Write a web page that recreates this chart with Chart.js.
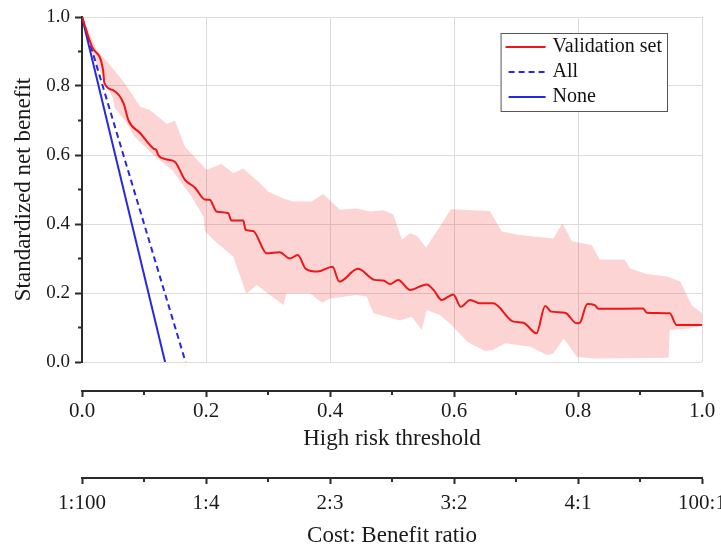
<!DOCTYPE html>
<html>
<head>
<meta charset="utf-8">
<script src="https://cdn.jsdelivr.net/npm/chart.js@4.4.1/dist/chart.umd.min.js"></script>
<style>
  html, body { margin: 0; padding: 0; background: #fff; }
  #wrap { width: 721px; height: 549px; }
</style>
</head>
<body>
<div id="wrap"><canvas id="c" width="721" height="549"></canvas></div>
<script>
// ---- Data ----
const validationX = [0, 0.016, 0.034, 0.036, 0.05, 0.067, 0.075, 0.094, 0.115, 0.12, 0.123, 0.137, 0.15, 0.166, 0.182, 0.198, 0.206, 0.217, 0.236, 0.241, 0.26, 0.264, 0.276, 0.298, 0.319, 0.335, 0.348, 0.361, 0.38, 0.404, 0.415, 0.445, 0.472, 0.486, 0.497, 0.51, 0.529, 0.556, 0.567, 0.58, 0.599, 0.611, 0.626, 0.642, 0.663, 0.696, 0.712, 0.733, 0.747, 0.757, 0.779, 0.798, 0.803, 0.815, 0.827, 0.833, 0.905, 0.911, 0.948, 0.959, 1.0];
const validationY = [1.0, 0.914, 0.846, 0.81, 0.788, 0.75, 0.70, 0.663, 0.619, 0.614, 0.60, 0.587, 0.58, 0.528, 0.506, 0.471, 0.47, 0.436, 0.431, 0.41, 0.41, 0.383, 0.38, 0.315, 0.318, 0.30, 0.31, 0.27, 0.262, 0.276, 0.233, 0.27, 0.238, 0.236, 0.226, 0.238, 0.209, 0.225, 0.209, 0.18, 0.196, 0.16, 0.18, 0.17, 0.17, 0.117, 0.114, 0.083, 0.162, 0.146, 0.143, 0.112, 0.114, 0.168, 0.165, 0.154, 0.155, 0.143, 0.141, 0.107, 0.107];

const upperX = [0, 0.024, 0.05, 0.067, 0.094, 0.11, 0.137, 0.15, 0.166, 0.201, 0.225, 0.244, 0.26, 0.287, 0.30, 0.325, 0.341, 0.37, 0.389, 0.416, 0.443, 0.465, 0.486, 0.502, 0.516, 0.529, 0.54, 0.555, 0.58, 0.595, 0.658, 0.677, 0.706, 0.76, 0.775, 0.79, 0.822, 0.835, 0.875, 0.884, 0.911, 0.943, 0.965, 0.983, 1.0];
const upperY = [1.0, 0.904, 0.85, 0.812, 0.74, 0.73, 0.69, 0.70, 0.624, 0.557, 0.574, 0.547, 0.561, 0.518, 0.494, 0.474, 0.465, 0.465, 0.487, 0.441, 0.445, 0.436, 0.44, 0.428, 0.354, 0.373, 0.366, 0.332, 0.40, 0.443, 0.438, 0.378, 0.368, 0.358, 0.402, 0.35, 0.339, 0.297, 0.297, 0.271, 0.255, 0.248, 0.233, 0.165, 0.141];

const lowerX = [0, 0.02, 0.04, 0.05, 0.052, 0.072, 0.085, 0.118, 0.145, 0.177, 0.196, 0.198, 0.212, 0.244, 0.265, 0.282, 0.303, 0.325, 0.33, 0.368, 0.387, 0.40, 0.443, 0.459, 0.47, 0.491, 0.513, 0.532, 0.548, 0.556, 0.577, 0.596, 0.622, 0.65, 0.663, 0.683, 0.723, 0.75, 0.76, 0.777, 0.798, 0.825, 0.946, 0.948, 0.98, 1.0];
const lowerY = [1.0, 0.88, 0.803, 0.764, 0.74, 0.692, 0.653, 0.595, 0.557, 0.479, 0.421, 0.38, 0.354, 0.305, 0.198, 0.223, 0.194, 0.165, 0.199, 0.199, 0.172, 0.184, 0.194, 0.19, 0.141, 0.131, 0.12, 0.131, 0.093, 0.151, 0.136, 0.107, 0.058, 0.032, 0.035, 0.054, 0.044, 0.02, 0.025, 0.068, 0.015, 0.01, 0.012, 0.093, 0.097, 0.105];

const allX = [0, 0.167];
const allY = [1, 0];
const noneX = [0, 0.134];
const noneY = [1, 0];

const thresholdLabels = ['0.0', '0.2', '0.4', '0.6', '0.8', '1.0'];
const costBenefitLabels = ['1:100', '1:4', '2:3', '3:2', '4:1', '100:1'];
const yLabels = ['0.0', '0.2', '0.4', '0.6', '0.8', '1.0'];

const seriesNames = ['Validation set', 'All', 'None'];

// ---- helpers ----
const pts = (xs, ys) => xs.map((x, i) => ({ x: x, y: ys[i] }));
const FONT = "'Liberation Serif', 'Times New Roman', serif";
const RED = 'rgb(238, 22, 22)';
const BLUE = 'rgb(40, 40, 225)';
const AXIS = '#2a2a2a';
const GRID = '#dcdcdc';
const labelAt = (arr) => (v) => { const i = Math.round(v / 0.2); return arr[i] !== undefined && Math.abs(v - i * 0.2) < 1e-6 ? arr[i] : ''; };

const minorTicks = {
  id: 'minorTicks',
  afterDraw(chart) {
    const ctx = chart.ctx;
    ['y', 'xA', 'xB'].forEach(id => {
      const s = chart.scales[id];
      const t = s.ticks;
      ctx.save();
      ctx.strokeStyle = AXIS;
      ctx.lineWidth = 2;
      for (let i = 0; i < t.length - 1; i++) {
        const p = s.getPixelForValue((t[i].value + t[i + 1].value) / 2);
        ctx.beginPath();
        if (s.isHorizontal()) { ctx.moveTo(p, s.top); ctx.lineTo(p, s.top + 4); }
        else { ctx.moveTo(s.right, p); ctx.lineTo(s.right - 4, p); }
        ctx.stroke();
      }
      ctx.restore();
    });
  }
};

const boxLegend = {
  id: 'boxLegend',
  afterDraw(chart) {
    const ctx = chart.ctx;
    const ca = chart.chartArea;
    const items = [0, 1, 2].map(i => chart.data.datasets[i]);
    ctx.save();
    ctx.font = '20px ' + FONT;
    const textW = Math.max(...items.map(d => ctx.measureText(d.label).width));
    const lineLen = 40, pad = 5, gap = 7, rowH = 25;
    const w = pad + lineLen + gap + textW + 5;
    const h = rowH * items.length + 3;
    const right = ca.right - 35;
    const left = right - w;
    const top = ca.top + 16;
    ctx.fillStyle = '#fff';
    ctx.fillRect(left, top, w, h);
    ctx.strokeStyle = '#555';
    ctx.lineWidth = 1;
    ctx.strokeRect(left + 0.5, top + 0.5, w, h);
    items.forEach((d, i) => {
      const cy = top + 14 + i * rowH;
      ctx.strokeStyle = d.borderColor;
      ctx.lineWidth = 2;
      ctx.setLineDash(d.borderDash || []);
      ctx.beginPath();
      ctx.moveTo(left + pad + (i === 0 ? 0 : 3), cy);
      ctx.lineTo(left + pad + lineLen, cy);
      ctx.stroke();
      ctx.setLineDash([]);
      ctx.fillStyle = '#111';
      ctx.textBaseline = 'middle';
      ctx.textAlign = 'left';
      ctx.fillText(d.label, left + pad + lineLen + gap, cy);
    });
    ctx.restore();
  }
};

new Chart(document.getElementById('c'), {
  type: 'line',
  data: {
    datasets: [
      { label: seriesNames[0], data: pts(validationX, validationY), borderColor: RED, borderWidth: 2, pointRadius: 0, cubicInterpolationMode: 'monotone', fill: false, xAxisID: 'x', yAxisID: 'y' },
      { label: seriesNames[1], data: pts(allX, allY), borderColor: BLUE, borderWidth: 2, borderDash: [6, 4], pointRadius: 0, fill: false, xAxisID: 'x', yAxisID: 'y' },
      { label: seriesNames[2], data: pts(noneX, noneY), borderColor: BLUE, borderWidth: 2, pointRadius: 0, fill: false, xAxisID: 'x', yAxisID: 'y' },
      { label: 'upper', data: pts(upperX, upperY), borderWidth: 0, borderColor: 'rgba(0,0,0,0)', pointRadius: 0, tension: 0, fill: false, xAxisID: 'x', yAxisID: 'y' },
      { label: 'lower', data: pts(lowerX, lowerY), borderWidth: 0, borderColor: 'rgba(0,0,0,0)', pointRadius: 0, tension: 0, fill: '-1', backgroundColor: 'rgba(245, 40, 40, 0.2)', xAxisID: 'x', yAxisID: 'y' }
    ]
  },
  options: {
    responsive: false,
    animation: false,
    events: [],
    layout: { padding: { top: 17, right: 19, left: 0, bottom: 0 } },
    plugins: { legend: { display: false }, tooltip: { enabled: false } },
    scales: {
      x: {
        type: 'linear', position: 'bottom', weight: 0, min: 0, max: 1,
        ticks: { display: false, stepSize: 0.2 },
        grid: { color: GRID, lineWidth: 1, drawTicks: false },
        border: { display: false },
        afterFit: s => { s.height = 29; s.paddingLeft = 0; s.paddingRight = 0; }
      },
      xA: {
        type: 'linear', position: 'bottom', weight: 1, min: 0, max: 1,
        ticks: { stepSize: 0.2, padding: 4, color: '#1a1a1a', font: { family: FONT, size: 21, lineHeight: 1 }, maxRotation: 0, callback: labelAt(thresholdLabels) },
        grid: { drawOnChartArea: false, drawTicks: true, tickLength: 6, tickColor: AXIS, tickWidth: 2 },
        border: { display: true, color: AXIS, width: 2 },
        title: { display: true, text: 'High risk threshold', color: '#1a1a1a', font: { family: FONT, size: 23, lineHeight: 1 }, padding: { top: 0, bottom: 28 } },
        afterFit: s => { s.height = 87; s.paddingLeft = 0; s.paddingRight = 0; }
      },
      xB: {
        type: 'linear', position: 'bottom', weight: 2, min: 0, max: 1,
        ticks: { stepSize: 0.2, padding: 9, color: '#1a1a1a', font: { family: FONT, size: 21, lineHeight: 1 }, maxRotation: 0, callback: labelAt(costBenefitLabels) },
        grid: { drawOnChartArea: false, drawTicks: true, tickLength: 6, tickColor: AXIS, tickWidth: 2 },
        border: { display: true, color: AXIS, width: 2 },
        title: { display: true, text: 'Cost: Benefit ratio', color: '#1a1a1a', font: { family: FONT, size: 23, lineHeight: 1 }, padding: { top: 0, bottom: 2 } },
        afterFit: s => { s.height = 71; s.paddingLeft = 0; s.paddingRight = 0; }
      },
      y: {
        type: 'linear', position: 'left', min: 0, max: 1,
        ticks: { stepSize: 0.2, padding: 5, color: '#1a1a1a', font: { family: FONT, size: 19, lineHeight: 1 }, callback: labelAt(yLabels) },
        grid: { color: GRID, lineWidth: 1, drawTicks: true, tickLength: 7, tickColor: AXIS, tickWidth: 2 },
        border: { display: true, color: AXIS, width: 2 },
        title: { display: true, text: 'Standardized net benefit', color: '#1a1a1a', font: { family: FONT, size: 23, lineHeight: 1 }, padding: { top: 12, bottom: 0 } },
        afterFit: s => { s.width = 82; }
      }
    }
  },
  plugins: [minorTicks, boxLegend]
});
</script>
</body>
</html>
